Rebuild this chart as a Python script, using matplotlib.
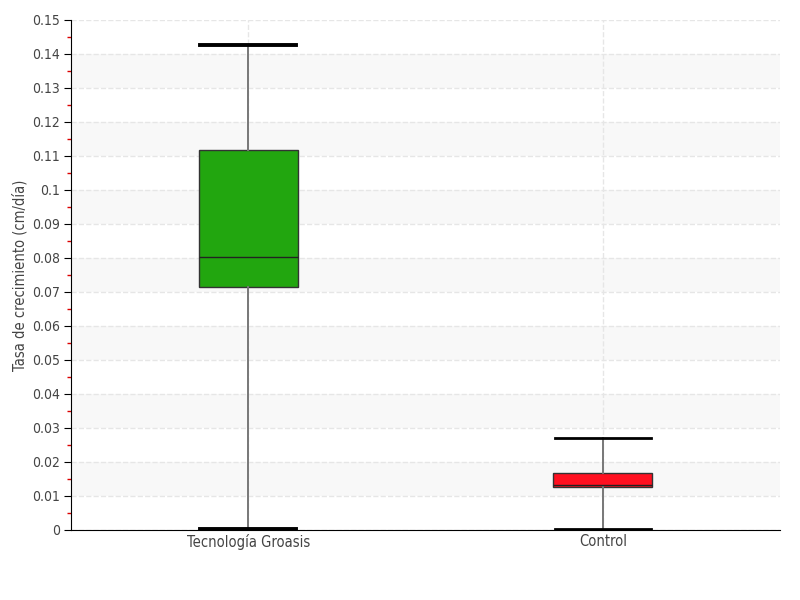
import numpy as np
import matplotlib.pyplot as plt
from matplotlib.ticker import MultipleLocator

categories = ["Tecnología Groasis", "Control"]
whislo = [0.0003, 0.0003]
q1 = [0.0715, 0.0126]
med = [0.0803, 0.0132]
q3 = [0.1118, 0.0168]
whishi = [0.1426, 0.0271]
colors = ["#22a60f", "#ff1020"]
cap_widths = [2.8, 2.0]

plt.rcParams['font.family'] = ['DejaVu Sans']
plt.rcParams['font.stretch'] = 'condensed'

fig = plt.figure(figsize=(8, 6), dpi=100)
ax = fig.add_axes([0.0888, 0.1167, 0.8862, 0.85])

# alternating bands
for lo in np.arange(0.01, 0.14, 0.02):
    ax.axhspan(lo, lo + 0.01, color="#f8f8f8", zorder=0, lw=0)

stats = []
for i in range(len(categories)):
    stats.append({'whislo': whislo[i], 'q1': q1[i], 'med': med[i],
                  'q3': q3[i], 'whishi': whishi[i], 'fliers': [],
                  'label': categories[i]})

bp = ax.bxp(stats, positions=range(len(categories)), widths=0.28,
            patch_artist=True, showfliers=False,
            whiskerprops=dict(color="#777777", lw=1.4),
            capprops=dict(color="black", lw=2.8),
            medianprops=dict(color="#222222", lw=1),
            boxprops=dict(edgecolor="#333333", lw=1))
for patch, c in zip(bp['boxes'], colors):
    patch.set_facecolor(c)
for i, cap in enumerate(bp['caps']):
    x = cap.get_xdata()
    m = (x[0] + x[1]) / 2
    cap.set_xdata([m - 0.135, m + 0.135])
    cap.set_linewidth(cap_widths[i // 2])

ax.set_xlim(-0.5, 1.5)
ax.set_ylim(0, 0.15)
ax.yaxis.set_minor_locator(MultipleLocator(0.005))
ax.set_yticks(np.arange(0, 0.151, 0.01))
ax.set_yticklabels(["0"] + ["%g" % round(v, 2) for v in np.arange(0.01, 0.151, 0.01)])
ax.tick_params(axis='y', which='major', length=5, color='black', labelsize=10, labelcolor='#444444', pad=3)
ax.tick_params(axis='y', which='minor', length=3, color='#dd0000', width=1)
ax.tick_params(axis='x', length=0, labelsize=10.5, labelcolor='#444444', pad=3)

ax.grid(True, axis='both', color="#e6e6e6", linestyle='--', lw=1)
ax.set_axisbelow(True)

ax.spines['top'].set_visible(False)
ax.spines['right'].set_visible(False)
ax.spines['left'].set_color('black')
ax.spines['bottom'].set_color('black')

ax.set_ylabel("Tasa de crecimiento (cm/día)", fontsize=10.5, color='#444444')
ax.yaxis.set_label_coords(-0.062, 0.5)

fig.savefig("out.png", dpi=100)
